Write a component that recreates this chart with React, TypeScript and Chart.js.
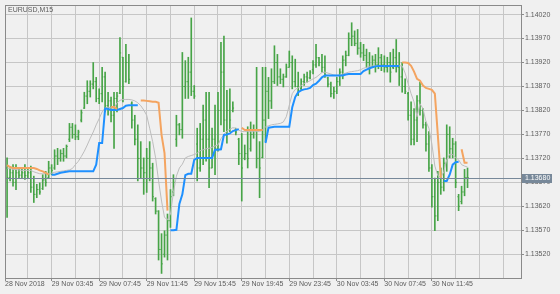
import React, { useEffect, useRef } from "react";
import { Chart, registerables } from "chart.js";

Chart.register(...registerables);

const symbolTitle = "EURUSD,M15";
const firstDateLabel = "28 Nov 2018";
const timeLabels = ["29 Nov 03:45", "29 Nov 07:45", "29 Nov 11:45", "29 Nov 15:45", "29 Nov 19:45", "29 Nov 23:45", "30 Nov 03:45", "30 Nov 07:45", "30 Nov 11:45"];
const timeLabelBars = [15, 31, 47, 63, 79, 95, 111, 127, 143];
const gridBars = [7, 15, 23, 31, 39, 47, 55, 63, 71, 79, 87, 95, 103, 111, 119, 127, 135, 143, 151, 159, 167];
const priceTicks = [1.1352, 1.1357, 1.1362, 1.1367, 1.1372, 1.1377, 1.1382, 1.1387, 1.1392, 1.1397, 1.1402];
const bidPrice = 1.1368;
const xMin = -0.7;
const xMax = 173;
const yMin = 1.134705;
const yMax = 1.1404;

const N = null;

const highs = [
  1.13721, 1.13700, 1.13707, 1.13707, 1.13697, 1.13700, 1.13707, 1.13697, 1.13704, 1.13683,
  1.13666, 1.13669, 1.13686, 1.13693, 1.13714, 1.13707, 1.13738, 1.13741, 1.13738, 1.13741,
  1.13748, 1.13793, 1.13793, 1.13790, 1.13779, 1.13821, 1.13858, 1.13882, 1.13882, 1.13920,
  1.13889, 1.13865, 1.13910, 1.13900, 1.13858, 1.13848, 1.13858, 1.13858, 1.13972, 1.13931,
  1.13958, 1.13937, 1.13838, 1.13810, 1.13790, 1.13755, 1.13721, 1.13741, 1.13755, 1.13710,
  1.13638, 1.13611, 1.13563, 1.13569, 1.13604, 1.13655, 1.13686, 1.13810, 1.13793, 1.13941,
  1.13924, 1.13931, 1.14013, 1.13872, 1.13783, 1.13793, 1.13831, 1.13858, 1.13858, 1.13783,
  1.13831, 1.13858, 1.13962, 1.13975, 1.13862, 1.13865, 1.13838, 1.13783, 1.13762, 1.13772,
  1.13748, 1.13786, 1.13796, 1.13790, 1.13910, 1.13755, 1.13910, 1.13910, 1.13889, 1.13907,
  1.13955, 1.13937, 1.13907, 1.13896, 1.13917, 1.13944, 1.13934, 1.13927, 1.13900, 1.13886,
  1.13896, 1.13900, 1.13903, 1.13924, 1.13958, 1.13931, 1.13937, 1.13934, 1.13889, 1.13879,
  1.13869, 1.13889, 1.13907, 1.13934, 1.13944, 1.13982, 1.14003, 1.13986, 1.13989, 1.13962,
  1.13958, 1.13948, 1.13941, 1.13934, 1.13937, 1.13951, 1.13937, 1.13934, 1.13931, 1.13941,
  1.13948, 1.13968, 1.13941, 1.13920, 1.13886, 1.13858, 1.13838, 1.13824, 1.13851, 1.13879,
  1.13824, 1.13796, 1.13776, 1.13707, 1.13679, 1.13693, 1.13700, 1.13721, 1.13790, 1.13786,
  1.13762, 1.13755, 1.13645, 1.13662, 1.13697, 1.13700,
];

const lows = [
  1.13597, 1.13673, 1.13662, 1.13655, 1.13679, 1.13679, 1.13676, 1.13679, 1.13649, 1.13628,
  1.13638, 1.13645, 1.13655, 1.13662, 1.13679, 1.13686, 1.13697, 1.13707, 1.13714, 1.13714,
  1.13721, 1.13755, 1.13762, 1.13759, 1.13759, 1.13796, 1.13824, 1.13834, 1.13848, 1.13865,
  1.13838, 1.13834, 1.13838, 1.13817, 1.13810, 1.13796, 1.13741, 1.13817, 1.13855, 1.13838,
  1.13879, 1.13876, 1.13783, 1.13748, 1.13673, 1.13679, 1.13645, 1.13649, 1.13673, 1.13631,
  1.13604, 1.13508, 1.13480, 1.13514, 1.13508, 1.13576, 1.13642, 1.13745, 1.13769, 1.13762,
  1.13845, 1.13845, 1.13851, 1.13845, 1.13673, 1.13693, 1.13707, 1.13714, 1.13659, 1.13700,
  1.13686, 1.13735, 1.13790, 1.13776, 1.13752, 1.13776, 1.13817, 1.13769, 1.13707, 1.13631,
  1.13717, 1.13700, 1.13735, 1.13762, 1.13700, 1.13638, 1.13721, 1.13755, 1.13803, 1.13824,
  1.13876, 1.13872, 1.13876, 1.13869, 1.13889, 1.13910, 1.13865, 1.13869, 1.13851, 1.13862,
  1.13872, 1.13879, 1.13886, 1.13896, 1.13910, 1.13913, 1.13900, 1.13889, 1.13869, 1.13848,
  1.13845, 1.13855, 1.13872, 1.13886, 1.13913, 1.13934, 1.13955, 1.13955, 1.13937, 1.13931,
  1.13924, 1.13910, 1.13896, 1.13910, 1.13900, 1.13907, 1.13903, 1.13900, 1.13900, 1.13879,
  1.13907, 1.13900, 1.13872, 1.13858, 1.13855, 1.13800, 1.13748, 1.13748, 1.13755, 1.13810,
  1.13783, 1.13735, 1.13693, 1.13618, 1.13569, 1.13590, 1.13645, 1.13652, 1.13693, 1.13721,
  1.13721, 1.13659, 1.13611, 1.13625, 1.13642, 1.13659,
];

const opens = [
  1.13700, 1.13680, 1.13690, 1.13670, 1.13690, 1.13685, 1.13690, 1.13684, 1.13690, 1.13660,
  1.13645, 1.13655, 1.13657, 1.13675, 1.13680, 1.13700, 1.13700, 1.13725, 1.13720, 1.13730,
  1.13725, 1.13760, 1.13785, 1.13770, 1.13765, 1.13800, 1.13825, 1.13850, 1.13860, 1.13875,
  1.13880, 1.13845, 1.13855, 1.13890, 1.13830, 1.13840, 1.13810, 1.13845, 1.13856, 1.13931,
  1.13880, 1.13920, 1.13835, 1.13800, 1.13760, 1.13720, 1.13700, 1.13690, 1.13720, 1.13700,
  1.13636, 1.13610, 1.13530, 1.13520, 1.13560, 1.13590, 1.13650, 1.13760, 1.13790, 1.13780,
  1.13870, 1.13880, 1.13900, 1.13860, 1.13750, 1.13700, 1.13760, 1.13800, 1.13760, 1.13700,
  1.13760, 1.13740, 1.13820, 1.13900, 1.13800, 1.13820, 1.13820, 1.13780, 1.13760, 1.13730,
  1.13720, 1.13730, 1.13740, 1.13770, 1.13780, 1.13720, 1.13722, 1.13800, 1.13860, 1.13840,
  1.13880, 1.13920, 1.13890, 1.13885, 1.13890, 1.13910, 1.13920, 1.13880, 1.13870, 1.13866,
  1.13880, 1.13890, 1.13888, 1.13905, 1.13915, 1.13930, 1.13920, 1.13910, 1.13888, 1.13875,
  1.13855, 1.13860, 1.13880, 1.13900, 1.13925, 1.13935, 1.13970, 1.13975, 1.13960, 1.13950,
  1.13940, 1.13935, 1.13920, 1.13910, 1.13925, 1.13915, 1.13930, 1.13915, 1.13910, 1.13920,
  1.13910, 1.13930, 1.13910, 1.13890, 1.13870, 1.13855, 1.13810, 1.13760, 1.13800, 1.13840,
  1.13820, 1.13790, 1.13750, 1.13700, 1.13640, 1.13600, 1.13670, 1.13660, 1.13710, 1.13770,
  1.13740, 1.13750, 1.13640, 1.13630, 1.13650, 1.13680,
];

const closes = [
  1.13680, 1.13690, 1.13670, 1.13690, 1.13685, 1.13690, 1.13684, 1.13690, 1.13660, 1.13645,
  1.13655, 1.13650, 1.13675, 1.13670, 1.13700, 1.13695, 1.13725, 1.13720, 1.13730, 1.13725,
  1.13745, 1.13785, 1.13770, 1.13765, 1.13775, 1.13815, 1.13850, 1.13860, 1.13875, 1.13880,
  1.13845, 1.13855, 1.13890, 1.13830, 1.13840, 1.13810, 1.13845, 1.13850, 1.13940, 1.13870,
  1.13920, 1.13885, 1.13800, 1.13760, 1.13720, 1.13700, 1.13690, 1.13720, 1.13700, 1.13640,
  1.13610, 1.13530, 1.13500, 1.13560, 1.13590, 1.13640, 1.13670, 1.13790, 1.13780, 1.13870,
  1.13880, 1.13900, 1.13860, 1.13850, 1.13700, 1.13760, 1.13800, 1.13760, 1.13700, 1.13760,
  1.13740, 1.13820, 1.13900, 1.13800, 1.13820, 1.13800, 1.13825, 1.13775, 1.13730, 1.13700,
  1.13730, 1.13720, 1.13770, 1.13780, 1.13720, 1.13700, 1.13800, 1.13860, 1.13840, 1.13880,
  1.13920, 1.13890, 1.13885, 1.13890, 1.13910, 1.13920, 1.13880, 1.13870, 1.13860, 1.13880,
  1.13890, 1.13888, 1.13900, 1.13915, 1.13930, 1.13920, 1.13910, 1.13895, 1.13875, 1.13855,
  1.13860, 1.13880, 1.13900, 1.13925, 1.13935, 1.13970, 1.13975, 1.13960, 1.13950, 1.13940,
  1.13935, 1.13920, 1.13910, 1.13925, 1.13915, 1.13930, 1.13915, 1.13910, 1.13920, 1.13900,
  1.13930, 1.13910, 1.13890, 1.13870, 1.13860, 1.13810, 1.13760, 1.13800, 1.13840, 1.13820,
  1.13790, 1.13750, 1.13700, 1.13640, 1.13600, 1.13670, 1.13660, 1.13710, 1.13770, 1.13740,
  1.13750, 1.13670, 1.13620, 1.13650, 1.13680, 1.13680,
];

const movingAverage = [
  1.13700, 1.13699, 1.13697, 1.13697, 1.13696, 1.13695, 1.13695, 1.13695, 1.13695, 1.13692,
  1.13690, 1.13688, 1.13688, 1.13688, 1.13688, 1.13689, 1.13691, 1.13692, 1.13693, 1.13694,
  1.13695, 1.13696, 1.13699, 1.13707, 1.13714, 1.13724, 1.13735, 1.13748, 1.13762, 1.13775,
  1.13790, 1.13803, 1.13817, 1.13825, 1.13827, 1.13825, 1.13824, 1.13836, 1.13841, 1.13843,
  1.13843, 1.13843, 1.13842, 1.13840, 1.13836, 1.13830, 1.13821, 1.13810, 1.13783, 1.13755,
  1.13721, 1.13673, 1.13631, 1.13597, 1.13592, 1.13604, 1.13649, 1.13683, 1.13700, 1.13708,
  1.13721, 1.13724, 1.13726, 1.13728, 1.13731, 1.13736, 1.13738, 1.13740, 1.13741, 1.13743,
  1.13746, 1.13748, 1.13761, 1.13770, 1.13777, 1.13781, 1.13784, 1.13783, 1.13779, 1.13776,
  1.13776, 1.13776, 1.13776, 1.13776, 1.13776, 1.13776, 1.13779, 1.13786, 1.13788, 1.13790,
  1.13791, 1.13792, 1.13793, 1.13796, 1.13807, 1.13831, 1.13855, 1.13864, 1.13867, 1.13872,
  1.13876, 1.13879, 1.13882, 1.13886, 1.13889, 1.13894, 1.13899, 1.13900, 1.13898, 1.13896,
  1.13894, 1.13893, 1.13894, 1.13896, 1.13898, 1.13900, 1.13901, 1.13902, 1.13903, 1.13905,
  1.13908, 1.13910, 1.13912, 1.13913, 1.13913, 1.13913, 1.13913, 1.13913, 1.13913, 1.13913,
  1.13913, 1.13913, 1.13913, 1.13913, 1.13898, 1.13876, 1.13855, 1.13838, 1.13807, 1.13834,
  1.13824, 1.13797, 1.13783, 1.13750, 1.13704, 1.13684, 1.13680, 1.13692, 1.13717, 1.13729,
  1.13728, 1.13722, 1.13717, 1.13707, 1.13704, 1.13702,
];

const upTrend = [
  N, N, N, N, N, N, N, N, N, N,
  N, N, N, N, N, 1.13686, 1.13686, 1.13688, 1.13690, 1.13691,
  1.13692, 1.13693, 1.13693, 1.13693, 1.13693, 1.13693, 1.13693, 1.13693, 1.13693, 1.13693,
  1.13707, 1.13752, 1.13752, 1.13824, 1.13823, 1.13821, 1.13821, 1.13821, 1.13823, 1.13825,
  1.13830, 1.13831, 1.13831, 1.13831, 1.13831, N, N, N, N, N,
  N, N, N, N, N, 1.13570, 1.13570, 1.13571, 1.13625, 1.13645,
  1.13685, 1.13688, 1.13688, 1.13717, 1.13721, 1.13721, 1.13721, 1.13721, 1.13721, 1.13721,
  1.13738, 1.13738, 1.13739, 1.13769, 1.13770, 1.13772, 1.13777, 1.13779, 1.13781, N,
  N, N, N, N, N, N, N, 1.13752, 1.13784, 1.13785,
  1.13786, 1.13786, 1.13786, 1.13786, 1.13786, 1.13786, 1.13827, 1.13848, 1.13858, 1.13862,
  1.13864, 1.13865, 1.13867, 1.13873, 1.13876, 1.13882, 1.13889, 1.13893, 1.13893, 1.13893,
  1.13893, 1.13893, 1.13893, 1.13893, 1.13895, 1.13896, 1.13896, 1.13896, 1.13896, 1.13896,
  1.13902, 1.13905, 1.13908, 1.13910, 1.13912, 1.13913, 1.13913, 1.13913, 1.13913, 1.13913,
  1.13913, 1.13913, 1.13913, N, N, N, N, N, N, N,
  N, N, N, N, N, N, N, 1.13673, 1.13673, 1.13686,
  1.13707, 1.13712, 1.13713, N, N, N,
];

const downTrend = [
  1.13706, 1.13702, 1.13700, 1.13700, 1.13700, 1.13700, 1.13700, 1.13700, 1.13700, 1.13700,
  1.13698, 1.13695, 1.13693, 1.13690, 1.13686, N, N, N, N, N,
  N, N, N, N, N, N, N, N, N, N,
  N, N, N, N, N, 1.13827, 1.13827, 1.13823, N, N,
  N, N, N, N, N, 1.13841, 1.13841, 1.13840, 1.13839, 1.13838,
  1.13838, 1.13836, 1.13769, 1.13731, 1.13611, N, N, N, N, N,
  N, N, N, N, N, N, N, N, N, N,
  N, N, N, N, N, N, N, N, N, 1.13784,
  1.13779, 1.13779, 1.13779, 1.13779, 1.13779, 1.13779, 1.13779, N, N, N,
  N, N, N, N, N, N, N, N, N, N,
  N, N, N, N, N, N, N, N, N, N,
  N, N, N, N, N, N, N, N, N, N,
  N, N, N, N, N, N, N, N, N, N,
  N, N, N, 1.13920, 1.13920, 1.13919, 1.13913, 1.13901, 1.13886, 1.13882,
  1.13872, 1.13867, 1.13865, 1.13863, 1.13855, 1.13769, 1.13680, N, N, N,
  N, N, N, 1.13739, 1.13711, 1.13711,
];

const BG = "#f0f0f0";
const BAR = "#47a447";
const GRID = "#c6c6c6";
const AXIS = "#8a8a8a";
const TEXT = "#5c5c5c";
const UP = "#1e90ff";
const DOWN = "#f4a460";
const MA = "#bdbdbd";
const BID = "#778899";
const FONT = "'Liberation Sans', Arial, sans-serif";

const pts = (arr: (number | null)[]) => arr.map((v, i) => ({ x: i, y: v }));

const mtPlugin = {
  id: "mt4overlay",
  beforeDraw(chart: any) {
    const { ctx, width, height } = chart;
    ctx.save();
    ctx.fillStyle = BG;
    ctx.fillRect(0, 0, width, height);
    ctx.restore();
  },
  afterDatasetsDraw(chart: any) {
    const { ctx, chartArea: a, scales } = chart;
    const y = Math.round(scales.y.getPixelForValue(bidPrice)) + 0.5;
    ctx.save();
    ctx.strokeStyle = BID;
    ctx.lineWidth = 1;
    ctx.beginPath();
    ctx.moveTo(a.left, y);
    ctx.lineTo(a.right, y);
    ctx.stroke();
    ctx.restore();
  },
  afterDraw(chart: any) {
    const { ctx, chartArea: a, scales } = chart;
    ctx.save();
    ctx.strokeStyle = AXIS;
    ctx.lineWidth = 1;
    ctx.strokeRect(Math.round(a.left) + 0.5, Math.round(a.top) + 0.5, Math.round(a.right - a.left), Math.round(a.bottom - a.top));
    ctx.font = `7px ${FONT}`;
    ctx.fillStyle = TEXT;
    ctx.textBaseline = "middle";
    ctx.textAlign = "left";
    ctx.fillText(symbolTitle, a.left + 3, a.top + 5);
    const y = Math.round(scales.y.getPixelForValue(bidPrice));
    ctx.fillStyle = BID;
    ctx.fillRect(a.right + 1, y - 4, 30, 9);
    ctx.fillStyle = "#ffffff";
    ctx.fillText(bidPrice.toFixed(5), a.right + 4, y + 0.5);
    ctx.restore();
  },
};

export default function App() {
  const ref = useRef<HTMLCanvasElement>(null);
  useEffect(() => {
    document.body.style.margin = "0";
    const canvas = ref.current;
    if (!canvas) return;
    const chart = new Chart(canvas, {
      type: "line",
      data: {
        datasets: [
          { type: "line", label: "down", data: pts(downTrend), borderColor: DOWN, borderWidth: 2, pointRadius: 0, spanGaps: false, order: 0 } as any,
          { type: "line", label: "up", data: pts(upTrend), borderColor: UP, borderWidth: 2, pointRadius: 0, spanGaps: false, order: 1 } as any,
          { type: "line", label: "ma", data: pts(movingAverage), borderColor: MA, borderWidth: 1, pointRadius: 0, order: 2 } as any,
          { type: "line", label: "open", data: pts(opens), showLine: false, pointStyle: "dash", pointRotation: 180, pointRadius: 1.2, pointBorderColor: BAR, pointBorderWidth: 1, order: 3 } as any,
          { type: "line", label: "close", data: pts(closes), showLine: false, pointStyle: "dash", pointRotation: 0, pointRadius: 1.2, pointBorderColor: BAR, pointBorderWidth: 1, order: 4 } as any,
          { type: "bar", label: "range", data: highs.map((h, i) => ({ x: i, y: [lows[i], h] })), backgroundColor: BAR, borderWidth: 0, barThickness: 1, grouped: false, order: 5 } as any,
        ],
      },
      options: {
        responsive: false,
        animation: false,
        devicePixelRatio: 1,
        events: [],
        layout: { padding: { left: 2, top: 2, right: 0, bottom: 0 } },
        plugins: { legend: { display: false }, tooltip: { enabled: false }, title: { display: false } },
        scales: {
          x: {
            type: "linear",
            min: xMin,
            max: xMax,
            offset: false,
            border: { display: false },
            afterBuildTicks: (s: any) => {
              s.ticks = [{ value: xMin }, ...gridBars.map((v) => ({ value: v }))];
            },
            afterFit: (s: any) => {
              s.height = 16;
              s.paddingLeft = 0;
              s.paddingRight = 0;
            },
            grid: {
              offset: false,
              color: (c: any) => (c.tick && c.tick.value === xMin ? "rgba(0,0,0,0)" : GRID),
              lineWidth: 1,
              borderDash: [3, 3],
              tickLength: 3,
              tickBorderDash: [],
              tickColor: (c: any) => (c.tick && (c.tick.value === xMin || timeLabelBars.includes(c.tick.value)) ? AXIS : "rgba(0,0,0,0)"),
            },
            ticks: {
              autoSkip: false,
              maxRotation: 0,
              minRotation: 0,
              align: "start",
              padding: 0,
              color: TEXT,
              font: { family: FONT, size: 7, lineHeight: 1 },
              callback: (v: any) => {
                if (v === xMin) return firstDateLabel;
                const i = timeLabelBars.indexOf(v);
                return i >= 0 ? timeLabels[i] : "";
              },
            },
          },
          y: {
            type: "linear",
            position: "right",
            min: yMin,
            max: yMax,
            border: { display: false },
            afterBuildTicks: (s: any) => {
              s.ticks = priceTicks.map((v) => ({ value: v }));
            },
            afterFit: (s: any) => {
              s.width = 39;
              s.paddingTop = 0;
              s.paddingBottom = 0;
            },
            grid: {
              color: GRID,
              lineWidth: 1,
              borderDash: [3, 3],
              tickLength: 3,
              tickBorderDash: [],
              tickColor: AXIS,
            },
            ticks: {
              padding: 1,
              color: TEXT,
              font: { family: FONT, size: 7, lineHeight: 1 },
              callback: (v: any) => Number(v).toFixed(5),
            },
          },
        },
      },
      plugins: [mtPlugin],
    } as any);
    return () => chart.destroy();
  }, []);
  return (
    <div style={{ width: 560, height: 294, background: BG }}>
      <canvas ref={ref} width={560} height={294} style={{ display: "block", width: 560, height: 294 }} />
    </div>
  );
}
